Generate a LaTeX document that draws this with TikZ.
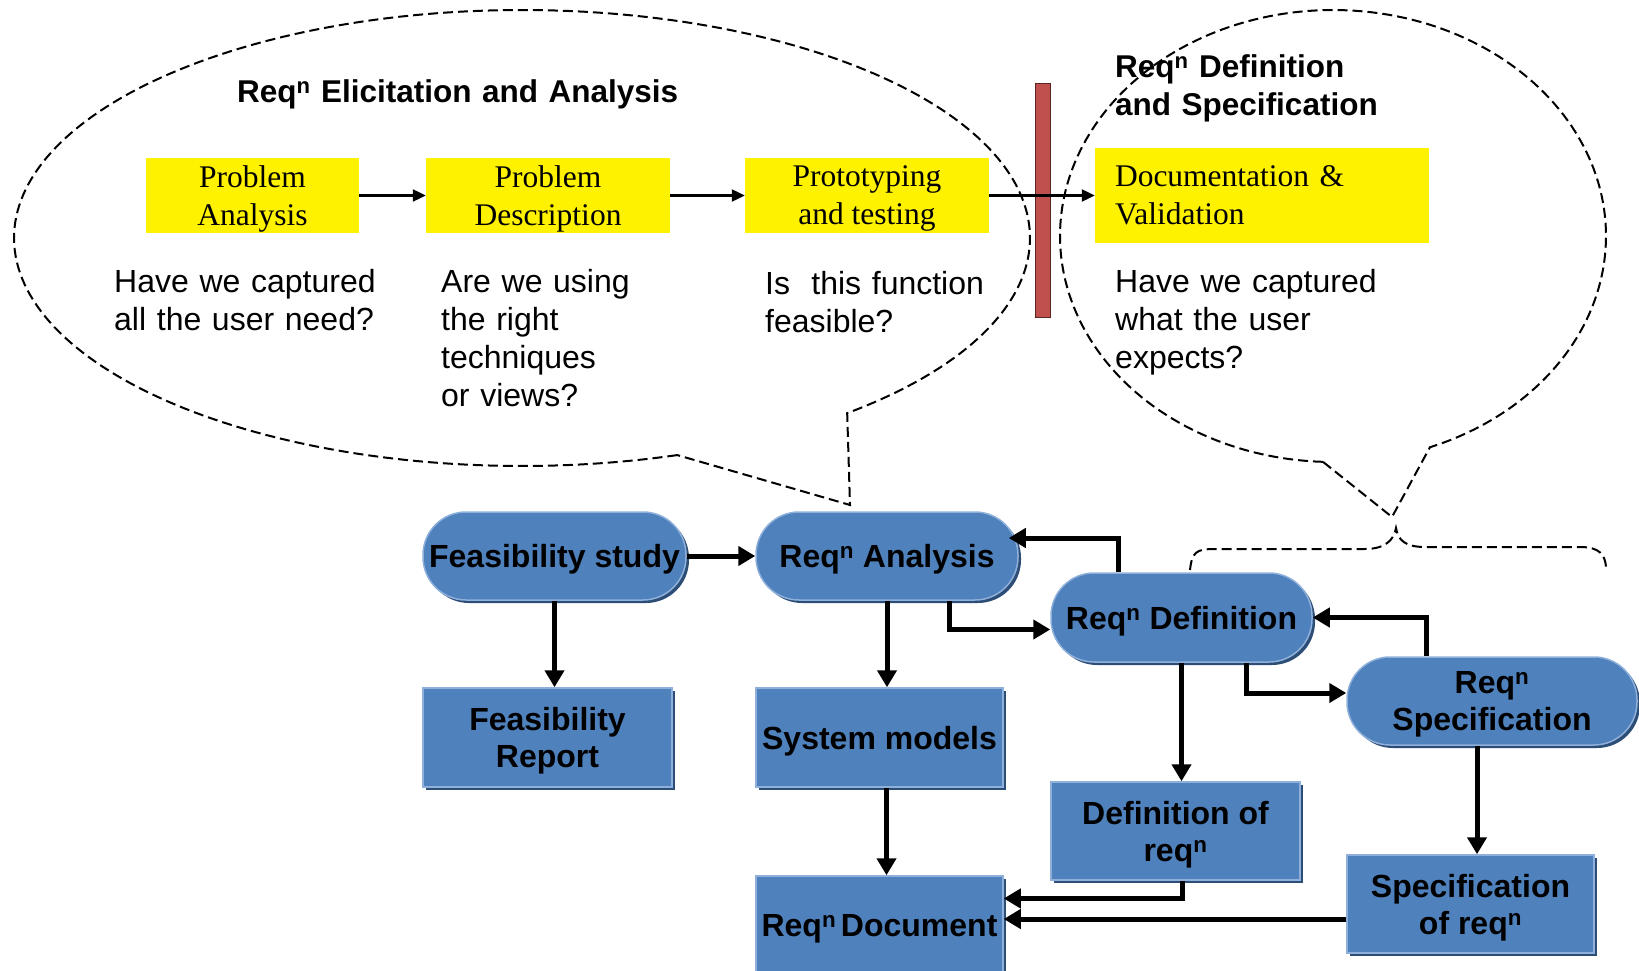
\documentclass[tikz,border=0pt]{standalone}
\usepackage{fontspec}
\setmainfont{Liberation Serif}
\newfontfamily\arialfont{Liberation Sans}
\usetikzlibrary{arrows.meta,shadows,calc}
\definecolor{boxblue}{HTML}{4F81BD}
\definecolor{boxedge}{HTML}{8EB0DA}
\definecolor{boxshade}{HTML}{2C4D75}
\definecolor{barred}{HTML}{C0504D}
\definecolor{bardark}{HTML}{5A2624}
\tikzset{
  bubble/.style={dash pattern=on 10pt off 5pt, line width=2pt},
  ybox/.style={fill=yellow, inner sep=0pt, font=\fontsize{31.5}{38}\selectfont},
  qtext/.style={font=\arialfont\fontsize{32}{38}\selectfont, anchor=base west, text width=320pt, align=left, inner sep=0pt},
  ttl/.style={font=\arialfont\bfseries\fontsize{31.5}{38}\selectfont, anchor=base west, text width=600pt, align=left, inner sep=0pt},
  thinarrow/.style={-{Triangle[length=13pt,width=12pt]}, line width=2.2pt},
  flow/.style={-{Triangle[length=17pt,width=19pt]}, line width=5pt},
  bluenode/.style={fill=boxblue, draw=boxedge, line width=1.5pt, drop shadow={shadow xshift=3pt, shadow yshift=-3pt, opacity=1, fill=boxshade}, font=\arialfont\bfseries\fontsize{32}{37}\selectfont, align=center, inner sep=0pt, text depth=-2pt},
  pill/.style={bluenode, rounded corners=43pt},
  rbox/.style={bluenode},
}
\begin{document}
\begin{tikzpicture}[x=1pt,y=-1pt]
\useasboundingbox (0,0) rectangle (1639,971);

% speech bubbles
\draw[bubble] plot[domain=72.2:410.2, samples=240] ({522+508*cos(\x)}, {238+228*sin(\x)}) -- (850,505) -- cycle;
\draw[bubble] plot[domain=92.1:429.2, samples=200] ({1333+273*cos(\x)}, {236+226*sin(\x)}) -- (1392,517) -- cycle;
% brace
\draw[bubble] (1190,570) .. controls (1192,552) and (1196,549) .. (1215,549) -- (1365,549) .. controls (1385,549) and (1394,540) .. (1396,528) .. controls (1398,540) and (1405,547) .. (1425,547) -- (1580,547) .. controls (1600,547) and (1605,555) .. (1606,567);

% titles
\node[ttl] (t1) at (237,103) {Req\textsuperscript{n} Elicitation and Analysis};
\node[ttl] (t2) at (1115,78) {Req\textsuperscript{n} Definition\\and Specification};

% yellow boxes
\node[ybox, minimum width=213pt, minimum height=75pt, align=center, text depth=-2pt] (pa) at (252.5,195.5) {Problem\\Analysis};
\node[ybox, minimum width=244pt, minimum height=75pt, align=center, text depth=-2pt] (pd) at (548,195.5) {Problem\\Description};
\node[ybox, minimum width=244pt, minimum height=75pt, align=center, text depth=-2pt] (pt) at (867,195.5) {Prototyping\\and testing};
\node[ybox, minimum height=94pt, text width=294pt, inner xsep=20pt, align=left] (dv) at (1262,195.5) {Documentation \&\\Validation};

% questions
\node[qtext] (q1) at (114,292) {Have we captured\\all the user need?};
\node[qtext] (q2) at (441,292) {Are we using\\the right\\techniques\\or views?};
\node[qtext] (q3) at (765,294) {Is\ \ this function\\feasible?};
\node[qtext] (q4) at (1115,292) {Have we captured\\what the user\\expects?};

% red bar
\draw[fill=barred, draw=bardark, line width=1pt] (1035,84) rectangle (1050,317);

\draw[thinarrow] (pa.east) -- (pd.west);
\draw[thinarrow] (pd.east) -- (pt.west);
\draw[thinarrow] (pt.east) -- (dv.west);

% blue nodes
\node[pill, minimum width=263pt, minimum height=88pt] (fs) at (554.5,556) {Feasibility study};
\node[pill, minimum width=262pt, minimum height=88pt] (ra) at (887,556) {Req\textsuperscript{n} Analysis};
\node[pill, minimum width=261pt, minimum height=89pt] (rd) at (1181.5,617.5) {Req\textsuperscript{n} Definition};
\node[pill, minimum width=290pt, minimum height=88pt] (rs) at (1492,701) {Req\textsuperscript{n}\\Specification};
\node[rbox, minimum width=249pt, minimum height=99pt] (fr) at (547.5,737.5) {Feasibility\\Report};
\node[rbox, minimum width=247pt, minimum height=99pt] (sm) at (879.5,737.5) {System models};
\node[rbox, minimum width=249pt, minimum height=98pt] (dr) at (1175.5,831) {Definition of\\req\textsuperscript{n}};
\node[rbox, minimum width=247pt, minimum height=98pt] (sr) at (1470.5,904) {Specification\\of req\textsuperscript{n}};
\node[rbox, minimum width=247pt, minimum height=99pt] (rdoc) at (879.5,925.5) {Req\textsuperscript{n}\hspace{0.15em}Document};

% flow arrows
\draw[flow] (fs.east) -- (ra.west);
\draw[flow] (fs.south) -- (fs.south |- fr.north);
\draw[flow] (ra.south) -- (ra.south |- sm.north);
\coordinate (a1) at ([xshift=62pt]ra.south);
\coordinate (a2) at ([yshift=-12pt]rd.west);
\draw[flow] (a1) |- (a2);
\coordinate (b1) at ([xshift=-63pt]rd.north);
\coordinate (b2) at ([xshift=-10pt,yshift=18pt]ra.east);
\draw[flow] (b1) |- (b2);
\coordinate (c1) at ([xshift=64.5pt]rd.south);
\coordinate (c2) at ([yshift=8pt]rs.west);
\draw[flow] (c1) |- (c2);
\coordinate (d1) at ([xshift=-66pt]rs.north);
\draw[flow] (d1) |- (rd.east);
\draw[flow] (rd.south) -- (rd.south |- dr.north);
\coordinate (e1) at ([xshift=-15pt]rs.south);
\draw[flow] (e1) -- (e1 |- sr.north);
\coordinate (f1) at ([xshift=7pt]sm.south);
\draw[flow] (f1) -- (f1 |- rdoc.north);
\coordinate (g1) at ([xshift=7pt]dr.south);
\coordinate (g2) at ([yshift=27pt]rdoc.east);
\draw[flow] (g1) |- (g2);
\coordinate (h1) at ([yshift=-15pt]sr.west);
\draw[flow] (h1) -- (h1 -| rdoc.east);
\end{tikzpicture}
\end{document}
